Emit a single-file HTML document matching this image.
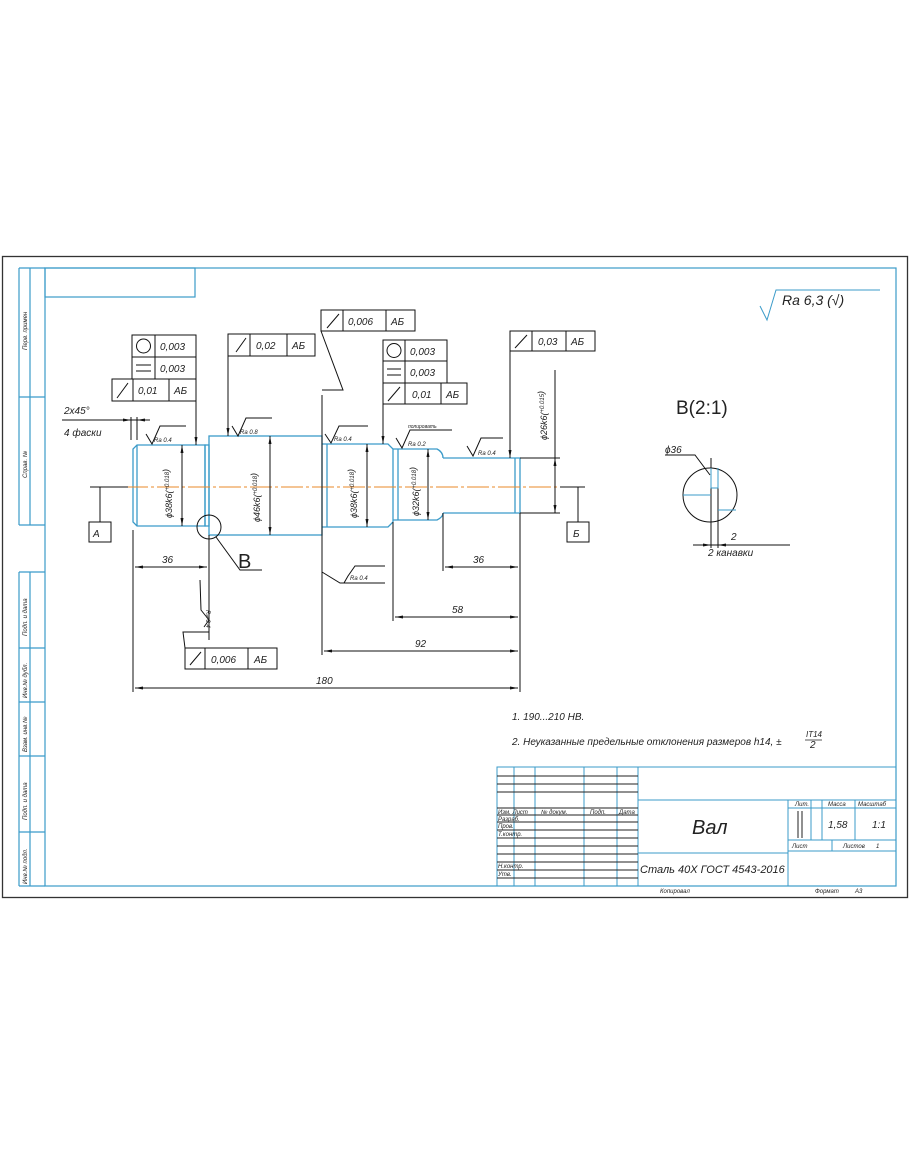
<!DOCTYPE html>
<html><head><meta charset="utf-8"><style>
html,body{margin:0;padding:0;background:#fff}
svg{display:block}
text{font-family:"Liberation Sans","DejaVu Sans",sans-serif;font-style:italic;fill:#222}
text.up{font-style:normal}
</style></head><body>
<svg width="910" height="1155" viewBox="0 0 910 1155" xmlns="http://www.w3.org/2000/svg">
<defs>
<marker id="ar" markerWidth="8" markerHeight="6" refX="8" refY="3" orient="auto-start-reverse" markerUnits="userSpaceOnUse"><path d="M0,1.5 L8,3 L0,4.5z" fill="#111"/></marker>
</defs>
<rect width="910" height="1155" fill="#fff"/>
<rect x="2.5" y="256.5" width="905" height="641" fill="none" stroke="#333" stroke-width="1.3"/>
<g stroke="#3b9bc9" stroke-width="1.2" fill="none">
<rect x="45" y="268" width="851" height="618"/>
<rect x="45" y="268" width="150" height="29"/>
<line x1="19" y1="268" x2="45" y2="268"/>
<line x1="19" y1="268" x2="19" y2="525"/>
<line x1="30" y1="268" x2="30" y2="525"/>
<line x1="19" y1="397" x2="45" y2="397"/>
<line x1="19" y1="525" x2="45" y2="525"/>
<line x1="19" y1="572" x2="19" y2="886"/>
<line x1="30" y1="572" x2="30" y2="886"/>
<line x1="19" y1="572" x2="45" y2="572"/>
<line x1="19" y1="648" x2="45" y2="648"/>
<line x1="19" y1="702" x2="45" y2="702"/>
<line x1="19" y1="756" x2="45" y2="756"/>
<line x1="19" y1="832" x2="45" y2="832"/>
<line x1="19" y1="886" x2="45" y2="886"/>
</g>
<g font-size="6" fill="#555">
<text transform="translate(27,350) rotate(-90)">Перв. примен</text>
<text transform="translate(27,478) rotate(-90)">Справ. №</text>
<text transform="translate(27,636) rotate(-90)">Подп. и дата</text>
<text transform="translate(27,698) rotate(-90)">Инв.№ дубл.</text>
<text transform="translate(27,752) rotate(-90)">Взам. инв.№</text>
<text transform="translate(27,820) rotate(-90)">Подп. и дата</text>
<text transform="translate(27,884) rotate(-90)">Инв.№ подл.</text>
</g>

<g stroke="#3b9bc9" stroke-width="1.3" fill="none">
<path d="M137,445 L205,445 L205,526 L137,526 L133,522 L133,449 Z"/>
<line x1="137" y1="445" x2="137" y2="526"/>
<rect x="205" y="445" width="4" height="81"/>
<rect x="209" y="436" width="113" height="99"/>
<path d="M322,444 L388,444 L393,449 L393,522 L388,527 L322,527"/>
<line x1="327" y1="444" x2="327" y2="527"/>
<path d="M393,449 L437,449 Q443,452 443,458 M393,520 L437,520 Q443,517 443,513"/>
<line x1="398" y1="449" x2="398" y2="520"/>
<path d="M443,458 L520,458 L520,513 L443,513"/>
<line x1="515" y1="458" x2="515" y2="513"/>
</g>
<line x1="95" y1="487" x2="585" y2="487" stroke="#e8892a" stroke-width="1" stroke-dasharray="22,3,3,3"/>

<g stroke="#111" stroke-width="1" fill="none">
<line x1="90" y1="487" x2="128" y2="487"/>
<line x1="100" y1="487" x2="100" y2="522"/>
<rect x="89" y="522" width="22" height="20"/>
<line x1="560" y1="487" x2="585" y2="487"/>
<line x1="578" y1="487" x2="578" y2="522"/>
<rect x="567" y="522" width="22" height="20"/>
<line x1="182" y1="445" x2="182" y2="526" marker-start="url(#ar)" marker-end="url(#ar)"/>
<line x1="270" y1="436" x2="270" y2="535" marker-start="url(#ar)" marker-end="url(#ar)"/>
<line x1="367" y1="444" x2="367" y2="527" marker-start="url(#ar)" marker-end="url(#ar)"/>
<line x1="428" y1="449" x2="428" y2="520" marker-start="url(#ar)" marker-end="url(#ar)"/>
<line x1="520" y1="458" x2="560" y2="458"/>
<line x1="520" y1="513" x2="560" y2="513"/>
<line x1="555" y1="370" x2="555" y2="513" />
<line x1="555" y1="470" x2="555" y2="458" marker-end="url(#ar)"/>
<line x1="555" y1="500" x2="555" y2="513" marker-end="url(#ar)"/>
<line x1="133" y1="530" x2="133" y2="692"/>
<line x1="209" y1="535" x2="209" y2="640"/>
<line x1="322" y1="395" x2="322" y2="655"/>
<line x1="393" y1="522" x2="393" y2="621"/>
<line x1="443" y1="513" x2="443" y2="571"/>
<line x1="520" y1="513" x2="520" y2="692"/>
<line x1="135" y1="567" x2="207" y2="567" marker-start="url(#ar)" marker-end="url(#ar)"/>
<line x1="445" y1="567" x2="518" y2="567" marker-start="url(#ar)" marker-end="url(#ar)"/>
<line x1="395" y1="617" x2="518" y2="617" marker-start="url(#ar)" marker-end="url(#ar)"/>
<line x1="324" y1="651" x2="518" y2="651" marker-start="url(#ar)" marker-end="url(#ar)"/>
<line x1="135" y1="688" x2="518" y2="688" marker-start="url(#ar)" marker-end="url(#ar)"/>
<line x1="62" y1="420" x2="147" y2="420"/>
<line x1="131" y1="417" x2="131" y2="440"/>
<line x1="137" y1="417" x2="137" y2="440"/>
<line x1="118" y1="420" x2="131" y2="420" marker-end="url(#ar)"/>
<line x1="150" y1="420" x2="137" y2="420" marker-end="url(#ar)"/>
<circle cx="209" cy="527" r="12"/>
<path d="M216,537 L240,570 L262,570"/>
<rect x="132" y="335" width="64" height="22"/><line x1="155" y1="335" x2="155" y2="379"/>
<rect x="132" y="357" width="64" height="22"/>
<rect x="112" y="379" width="84" height="22"/><line x1="133" y1="379" x2="133" y2="401"/><line x1="169" y1="379" x2="169" y2="401"/>
<circle cx="143.5" cy="346" r="7"/>
<line x1="136" y1="365" x2="151" y2="365"/><line x1="136" y1="371" x2="151" y2="371"/>
<line x1="196" y1="340" x2="196" y2="445" marker-end="url(#ar)"/>
<rect x="228" y="334" width="87" height="22"/><line x1="250" y1="334" x2="250" y2="356"/><line x1="287" y1="334" x2="287" y2="356"/>
<line x1="228" y1="356" x2="228" y2="436" marker-end="url(#ar)"/>
<rect x="321" y="310" width="94" height="21"/><line x1="343" y1="310" x2="343" y2="331"/><line x1="386" y1="310" x2="386" y2="331"/>
<path d="M321,331 L343,390 L322,390"/>
<rect x="383" y="340" width="64" height="21"/><line x1="405" y1="340" x2="405" y2="383"/>
<rect x="383" y="361" width="64" height="22"/>
<rect x="383" y="383" width="84" height="21"/><line x1="405" y1="383" x2="405" y2="404"/><line x1="441" y1="383" x2="441" y2="404"/>
<circle cx="394" cy="350.5" r="7"/>
<line x1="387" y1="369" x2="401" y2="369"/><line x1="387" y1="375" x2="401" y2="375"/>
<line x1="383" y1="404" x2="383" y2="444" marker-end="url(#ar)"/>
<rect x="510" y="331" width="85" height="20"/><line x1="532" y1="331" x2="532" y2="351"/><line x1="566" y1="331" x2="566" y2="351"/>
<line x1="510" y1="351" x2="510" y2="458" marker-end="url(#ar)"/>
<rect x="185" y="648" width="92" height="21"/><line x1="205" y1="648" x2="205" y2="669"/><line x1="248" y1="648" x2="248" y2="669"/>
<path d="M185,648 L183,632 L209,632"/>
<path d="M117,398 L128,383 M236,352 L246,338 M327,328 L339,314 M388,401 L400,387 M515,348 L527,335 M190,665 L201,652" />
<path d="M146,434 L152,444 L160,426 L186,426"/>
<path d="M232,426 L238,436 L246,418 L272,418"/>
<path d="M325,434 L331,443 L339,426 L368,426"/>
<path d="M396,438 L402,448 L410,430 L452,430"/>
<path d="M467,446 L473,456 L481,438 L503,438"/>
<path d="M322,572 L340,583 L344,583 L348,576 L355,566 L385,566 M344,583 L385,583"/>
<path d="M209,620 L201,610 L200,580 M204,627 L209,620"/>
<circle cx="710" cy="495" r="27"/>
<path d="M665,455 L695,455 L710,475"/>
<line x1="711" y1="458" x2="711" y2="548"/>
<line x1="718" y1="488" x2="718" y2="548"/>
<line x1="693" y1="545" x2="790" y2="545"/>
<line x1="700" y1="545" x2="711" y2="545" marker-end="url(#ar)"/>
<line x1="730" y1="545" x2="718" y2="545" marker-end="url(#ar)"/>
</g>
<g stroke="#3b9bc9" stroke-width="1" fill="none">
<path d="M683,495 L711,495 M711,468 L711,488 L718,488 L718,468 M718,510 L736,510"/>
<path d="M760,306 L767,320 L776,290 L880,290"/>
</g>

<g font-size="10">
<text x="160" y="350">0,003</text><text x="160" y="372">0,003</text>
<text x="138" y="394">0,01</text><text x="174" y="394">АБ</text>
<text x="256" y="349">0,02</text><text x="292" y="349">АБ</text>
<text x="348" y="325">0,006</text><text x="391" y="325">АБ</text>
<text x="410" y="355">0,003</text><text x="410" y="376">0,003</text>
<text x="412" y="398">0,01</text><text x="446" y="398">АБ</text>
<text x="538" y="345">0,03</text><text x="571" y="345">АБ</text>
<text x="211" y="663">0,006</text><text x="254" y="663">АБ</text>
<text x="93" y="537">А</text><text x="573" y="537">Б</text>
<text x="162" y="563">36</text><text x="473" y="563">36</text>
<text x="452" y="613">58</text><text x="415" y="647">92</text><text x="316" y="684">180</text>
<text x="64" y="414">2x45°</text><text x="64" y="436">4 фаски</text>
<text x="512" y="720">1. 190...210 HB.</text>
<text x="512" y="745">2. Неуказанные предельные отклонения размеров h14, ±</text>
<text x="806" y="737" font-size="8">IT14</text><text x="810" y="748">2</text>
<line x1="805" y1="740" x2="822" y2="740" stroke="#222" stroke-width=".8"/>
<text x="665" y="453">ϕ36</text><text x="731" y="540">2</text><text x="708" y="556">2 канавки</text>
</g>
<g font-size="6">
<text x="154" y="442">Ra 0.4</text><text x="240" y="434">Ra 0.8</text><text x="334" y="441">Ra 0.4</text>
<text x="408" y="446">Ra 0.2</text><text x="408" y="428" font-size="5">полировать</text>
<text x="478" y="455">Ra 0.4</text><text x="350" y="580">Ra 0.4</text>
<text transform="translate(206,610) rotate(90)">Ra 0.4</text>
</g>
<g font-size="9">
<text transform="translate(172,518) rotate(-90)">ϕ38k6(<tspan font-size="6" dy="-3">+0.018</tspan>)</text>
<text transform="translate(260,522) rotate(-90)">ϕ46k6(<tspan font-size="6" dy="-3">+0.018</tspan>)</text>
<text transform="translate(357,518) rotate(-90)">ϕ38k6(<tspan font-size="6" dy="-3">+0.018</tspan>)</text>
<text transform="translate(419,516) rotate(-90)">ϕ32k6(<tspan font-size="6" dy="-3">+0.018</tspan>)</text>
<text transform="translate(547,440) rotate(-90)">ϕ26k6(<tspan font-size="6" dy="-3">+0.015</tspan>)</text>
</g>
<text class="up" x="238" y="568" font-size="20">B</text>
<text class="up" x="676" y="414" font-size="19">B(2:1)</text>
<text x="782" y="305" font-size="14">Ra 6,3 (√)</text>

<g stroke="#3b9bc9" stroke-width="1" fill="none">
<rect x="497" y="767" width="399" height="119"/>
<line x1="638" y1="767" x2="638" y2="886"/>
<line x1="638" y1="800" x2="896" y2="800"/>
<line x1="638" y1="853" x2="788" y2="853"/>
<line x1="788" y1="800" x2="788" y2="886"/>
<line x1="788" y1="808" x2="896" y2="808"/>
<line x1="788" y1="840" x2="896" y2="840"/>
<line x1="788" y1="851" x2="896" y2="851"/>
<line x1="811" y1="800" x2="811" y2="840"/>
<line x1="822" y1="800" x2="822" y2="840"/>
<line x1="855" y1="800" x2="855" y2="840"/>
<line x1="832" y1="840" x2="832" y2="851"/>
<line x1="514" y1="767" x2="514" y2="886"/>
<line x1="535" y1="767" x2="535" y2="886"/>
<line x1="584" y1="767" x2="584" y2="886"/>
<line x1="617" y1="767" x2="617" y2="886"/>
</g>
<g stroke="#222" stroke-width="1">
<line x1="497" y1="776" x2="638" y2="776"/><line x1="497" y1="784" x2="638" y2="784"/>
<line x1="497" y1="792" x2="638" y2="792"/><line x1="497" y1="808" x2="638" y2="808"/>
<line x1="497" y1="815" x2="638" y2="815"/><line x1="497" y1="822" x2="638" y2="822"/>
<line x1="497" y1="830" x2="638" y2="830"/><line x1="497" y1="838" x2="638" y2="838"/>
<line x1="497" y1="846" x2="638" y2="846"/><line x1="497" y1="854" x2="638" y2="854"/>
<line x1="497" y1="862" x2="638" y2="862"/><line x1="497" y1="870" x2="638" y2="870"/>
<line x1="497" y1="878" x2="638" y2="878"/>
<line x1="798" y1="811" x2="798" y2="838"/><line x1="802" y1="811" x2="802" y2="838"/>
</g>
<g font-size="6" fill="#333">
<text x="498" y="814">Изм. Лист</text><text x="541" y="814">№ докум.</text><text x="590" y="814">Подп.</text><text x="619" y="814">Дата</text>
<text x="498" y="821">Разраб.</text><text x="498" y="828">Пров.</text><text x="498" y="836">Т.контр.</text>
<text x="498" y="868">Н.контр.</text><text x="498" y="876">Утв.</text>
<text x="795" y="806">Лит.</text><text x="828" y="806">Масса</text><text x="858" y="806">Масштаб</text>
<text x="792" y="848">Лист</text><text x="843" y="848">Листов</text><text x="876" y="848">1</text>
<text x="660" y="893">Копировал</text><text x="815" y="893">Формат</text><text x="855" y="893">А3</text>
</g>
<text x="828" y="828" font-size="10">1,58</text><text x="872" y="828" font-size="10">1:1</text>
<text x="692" y="834" font-size="20">Вал</text>
<text x="640" y="873" font-size="11">Сталь 40Х ГОСТ 4543-2016</text>
</svg>
</body></html>
